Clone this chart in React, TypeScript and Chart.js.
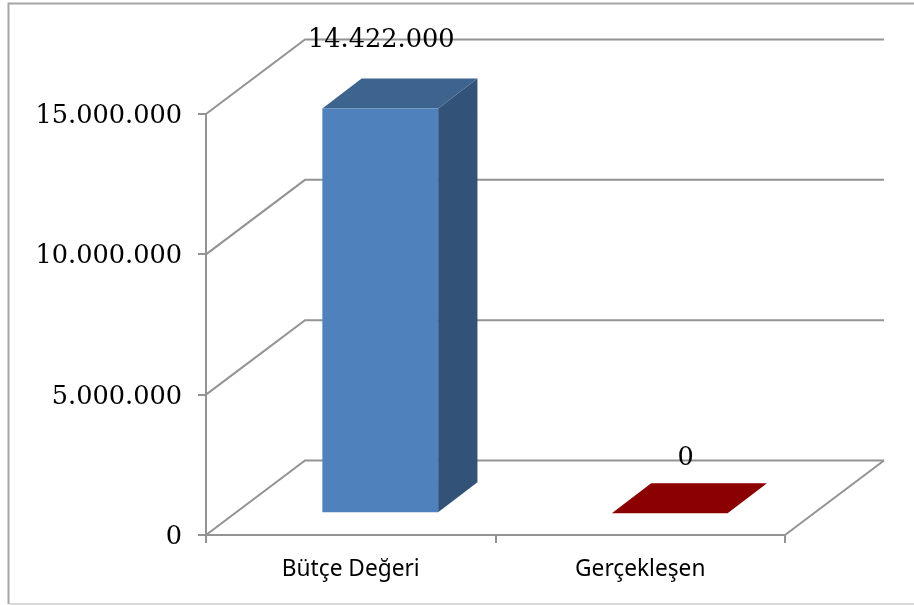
import React, { useEffect, useRef } from "react";
import { Chart, registerables } from "chart.js";

Chart.register(...registerables);

const categories = ["Bütçe Değeri", "Gerçekleşen"];
const budgetValues = [14422000, 0];
const barColors = ["#4F81BD", "#8B0000"];
const barSideColors = ["#325278", "#6B0000"];
const barTopColors = ["#3D638F", "#8B0000"];
const yTickMax = 15000000;
const yTickStep = 5000000;

const GRID = "#939393";
const WALL_DX = 99;
const WALL_DY = -74.5;
const BAR_DX = 29.5;
const BAR_DY = -21.8;
const BAR_DEPTH_X = 39.3;
const BAR_DEPTH_Y = -30;
const LABEL_FONT = "25.6px 'DejaVu Serif'";
const Y_LABEL_SHIFT = 2.5;
const LABEL_NUDGE = [
  { x: 1, y: -68.5 },
  { x: 16, y: -54.5 },
];

const fmt = (v: number) => String(v).replace(/\B(?=(\d{3})+(?!\d))/g, ".");

const poly = (ctx: CanvasRenderingContext2D, pts: number[][], fill: string) => {
  ctx.beginPath();
  pts.forEach((p, i) => (i ? ctx.lineTo(p[0], p[1]) : ctx.moveTo(p[0], p[1])));
  ctx.closePath();
  ctx.fillStyle = fill;
  ctx.fill();
};

const bar3d = {
  id: "bar3d",
  beforeDraw(chart: any) {
    const { ctx, width, height } = chart;
    ctx.save();
    ctx.fillStyle = "#fff";
    ctx.fillRect(0, 0, width, height);
    ctx.lineWidth = 2;
    ctx.strokeStyle = "#A6A6A6";
    ctx.beginPath();
    ctx.moveTo(8.5, 604);
    ctx.lineTo(8.5, 3.5);
    ctx.lineTo(914, 3.5);
    ctx.stroke();
    ctx.strokeStyle = "#D8D8D8";
    ctx.beginPath();
    ctx.moveTo(9.5, 604);
    ctx.lineTo(914, 604);
    ctx.stroke();
    ctx.restore();
    chart.scales.y.getLabelItems().forEach((item: any) => {
      if (!item.shifted) {
        item.textOffset += Y_LABEL_SHIFT;
        item.shifted = true;
      }
    });
  },
  beforeDatasetsDraw(chart: any) {
    const { ctx, chartArea, scales } = chart;
    const { left, right, bottom } = chartArea;
    ctx.save();
    ctx.strokeStyle = GRID;
    ctx.lineWidth = 2;
    scales.y.ticks.forEach((t: any) => {
      const y = scales.y.getPixelForValue(t.value);
      ctx.beginPath();
      ctx.moveTo(left, y);
      ctx.lineTo(left + WALL_DX, y + WALL_DY);
      ctx.lineTo(right + WALL_DX, y + WALL_DY);
      ctx.stroke();
    });
    ctx.beginPath();
    ctx.moveTo(right, bottom);
    ctx.lineTo(right + WALL_DX, bottom + WALL_DY);
    ctx.stroke();

    const meta = chart.getDatasetMeta(0);
    meta.data.forEach((b: any, i: number) => {
      const hw = b.width / 2;
      const x0 = b.x - hw + BAR_DX;
      const x1 = b.x + hw + BAR_DX;
      const yTop = b.y + BAR_DY;
      const yBot = b.base + BAR_DY;
      poly(ctx, [
        [x1, yTop],
        [x1 + BAR_DEPTH_X, yTop + BAR_DEPTH_Y],
        [x1 + BAR_DEPTH_X, yBot + BAR_DEPTH_Y],
        [x1, yBot],
      ], barSideColors[i]);
      poly(ctx, [
        [x0, yTop],
        [x1, yTop],
        [x1 + BAR_DEPTH_X, yTop + BAR_DEPTH_Y],
        [x0 + BAR_DEPTH_X, yTop + BAR_DEPTH_Y],
      ], barTopColors[i]);
    });
    ctx.restore();
    ctx.save();
    ctx.translate(BAR_DX, BAR_DY);
  },
  afterDatasetsDraw(chart: any) {
    const { ctx } = chart;
    ctx.restore();
    ctx.save();
    ctx.font = LABEL_FONT;
    ctx.fillStyle = "#000";
    ctx.textAlign = "center";
    ctx.textBaseline = "middle";
    const meta = chart.getDatasetMeta(0);
    meta.data.forEach((b: any, i: number) => {
      ctx.fillText(
        fmt(budgetValues[i]),
        b.x + BAR_DX + LABEL_NUDGE[i].x,
        b.y + BAR_DY + LABEL_NUDGE[i].y
      );
    });
    ctx.restore();
  },
};

export default function App() {
  const ref = useRef<HTMLCanvasElement>(null);
  useEffect(() => {
    const chart = new Chart(ref.current as HTMLCanvasElement, {
      type: "bar",
      data: {
        labels: categories,
        datasets: [
          {
            data: budgetValues,
            backgroundColor: barColors,
            borderWidth: 0,
            barPercentage: 0.4,
            categoryPercentage: 1,
            clip: false,
          } as any,
        ],
      },
      options: {
        responsive: false,
        animation: false,
        devicePixelRatio: 1,
        layout: { padding: { left: 0, top: 114, right: 129, bottom: 0 } },
        plugins: { legend: { display: false }, tooltip: { enabled: false } },
        scales: {
          x: {
            afterFit: (s: any) => {
              s.height = 70;
            },
            border: { color: GRID, width: 2 },
            grid: { drawOnChartArea: false, color: GRID, lineWidth: 2, tickLength: 8 },
            ticks: {
              color: "#000",
              padding: 13,
              maxRotation: 0,
              font: { family: "'Noto Sans'", size: 22.7 },
            },
          },
          y: {
            min: 0,
            max: yTickMax,
            afterFit: (s: any) => {
              s.width = 206;
            },
            border: { color: GRID, width: 2 },
            grid: { drawOnChartArea: false, color: GRID, lineWidth: 2, tickLength: 8 },
            ticks: {
              stepSize: yTickStep,
              color: "#000",
              padding: 16,
              font: { family: "'DejaVu Serif'", size: 25.6 },
              callback: (v: any) => fmt(Number(v)),
            },
          },
        },
      },
      plugins: [bar3d],
    } as any);
    return () => chart.destroy();
  }, []);
  return (
    <canvas
      ref={ref}
      width={914}
      height={605}
      style={{ position: "absolute", left: 0, top: 0, display: "block" }}
    />
  );
}
